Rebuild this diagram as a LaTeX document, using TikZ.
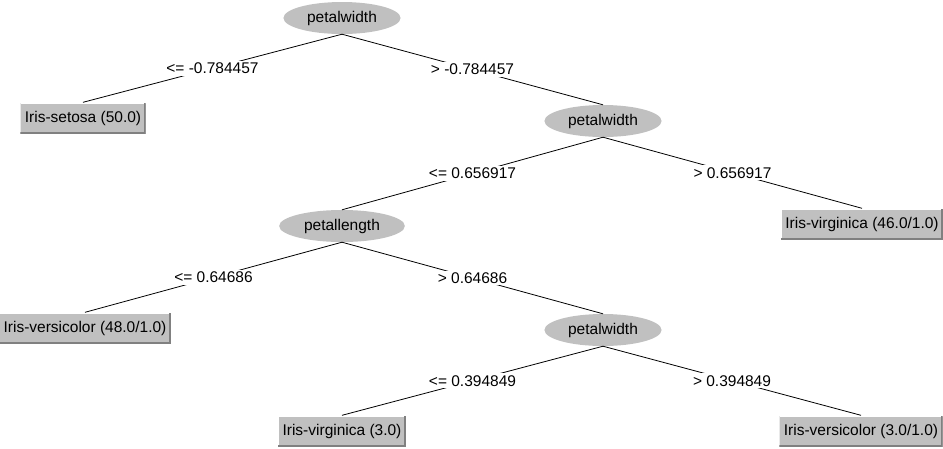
\documentclass[tikz,border=0pt]{standalone}
\usepackage{fontspec}
\setmainfont{Liberation Sans}
\usetikzlibrary{shapes.geometric}
\definecolor{wgray}{RGB}{192,192,192}
\definecolor{wdark}{RGB}{128,128,128}

\begin{document}
\begin{tikzpicture}[x=1pt,y=-1pt,font=\fontsize{15.5}{18}\selectfont,
    attr/.style={ellipse,fill=wgray,inner xsep=6.5pt,inner ysep=0pt,minimum height=32pt},
    leaf/.style={rectangle,fill=wgray,inner xsep=4.5pt,inner ysep=0pt,minimum height=31pt,
        path picture={
            \draw[white,line width=2pt] (path picture bounding box.south west)
                -- (path picture bounding box.north west) -- (path picture bounding box.north east);
            \draw[wdark,line width=4pt] (path picture bounding box.south west)
                -- (path picture bounding box.south east) -- (path picture bounding box.north east);}},
    lbl/.style={fill=white,inner sep=2pt},
    edge/.style={line width=0.8pt}]
    \useasboundingbox (0,0) rectangle (943,448);
    	\node[attr] (0) at (342,18) {petalwidth};
    	\node[leaf] (1) at (83,118) {Iris-setosa (50.0)};
    	\node[attr] (2) at (603,121) {petalwidth};
    	\node[leaf] (3) at (862,224) {Iris-virginica (46.0/1.0)};
    	\node[attr] (4) at (342,226) {petallength};
    	\node[leaf] (5) at (85,328) {Iris-versicolor (48.0/1.0)};
    	\node[attr] (6) at (603,330) {petalwidth};
    	\node[leaf] (7) at (342,431) {Iris-virginica (3.0)};
    	\node[leaf] (8) at (861,431) {Iris-versicolor (3.0/1.0)};
    	\draw [edge] (0.south)--(1.north) node[lbl,midway] {<= -0.784457};
    	\draw [edge] (0.south)--(2.north) node[lbl,midway] {> -0.784457};
    	\draw [edge] (2.south)--(4.north) node[lbl,midway] {<= 0.656917};
    	\draw [edge] (2.south)--(3.north) node[lbl,midway] {> 0.656917};
    	\draw [edge] (4.south)--(5.north) node[lbl,midway] {<= 0.64686};
    	\draw [edge] (4.south)--(6.north) node[lbl,midway] {> 0.64686};
    	\draw [edge] (6.south)--(7.north) node[lbl,midway] {<= 0.394849};
    	\draw [edge] (6.south)--(8.north) node[lbl,midway] {> 0.394849};
\end{tikzpicture}
\end{document}
